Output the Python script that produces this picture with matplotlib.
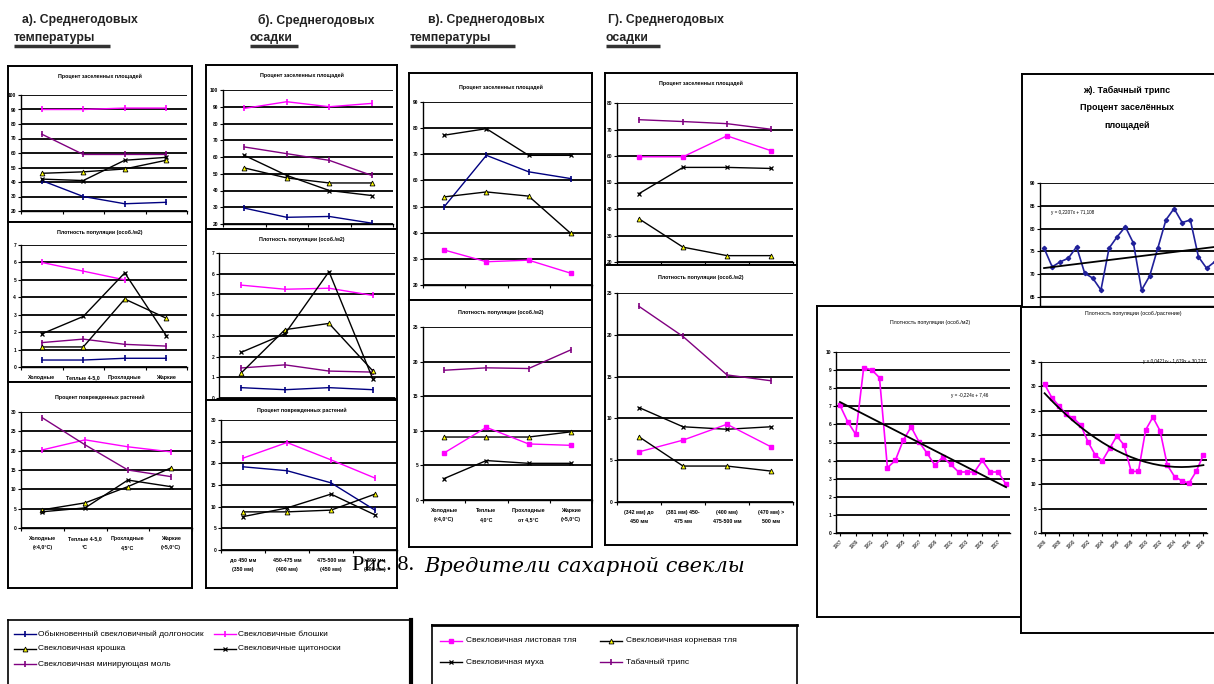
import numpy as np
import matplotlib
matplotlib.use('Agg')
import matplotlib.pyplot as plt

W, H = 1214, 684

# categories
temp_cats = ["Холодные\n(<4,0°С)", "Теплые 4-5,0\n°С", "Прохладные\n4,5°С", "Жаркие\n(>5,0°С)"]
temp_cats_short = ["Холодные", "Теплые 4-5,0", "Прохладные", "Жаркие"]
prec_cats = ["до 450 мм\n(350 мм)", "450-475 мм\n(400 мм)", "475-500 мм\n(450 мм)", ">500 мм\n(500 мм)"]
temp_cats_v = ["Холодные\n(<4,0°С)", "Теплые\n4,0°С", "Прохладные\nот 4,5°С", "Жаркие\n(>5,0°С)"]
prec_cats_g = ["(342 мм) до\n450 мм", "(381 мм) 450-\n475 мм", "(400 мм)\n475-500 мм", "(470 мм) >\n500 мм"]

# а) температуры
a_area_blue = [41, 30, 25, 26]
a_area_mag = [90, 90, 91, 91]
a_area_purple = [73, 59, 59, 59]
a_area_tri = [46, 47, 49, 55]
a_area_x = [42, 41, 55, 57]

a_dens_blue = [0.4, 0.4, 0.5, 0.5]
a_dens_mag = [6.0, 5.5, 5.0, np.nan]
a_dens_purple = [1.4, 1.6, 1.3, 1.2]
a_dens_tri = [1.15, 1.15, 3.9, 2.8]
a_dens_x = [1.9, 2.9, 5.4, 1.8]

a_dmg_mag = [20.2, 22.8, 21.0, 19.7]
a_dmg_purple = [28.5, 21.5, 15.0, 13.3]
a_dmg_tri = [4.7, 6.5, 10.7, 15.5]
a_dmg_x = [4.2, 5.2, 12.4, 10.7]

# б) осадки
b_area_blue = [29.5, 24, 24.5, 20.5]
b_area_mag = [89, 93, 90, 92]
b_area_purple = [66, 62, 58, 49]
b_area_tri = [53.5, 47.5, 44.5, 44.5]
b_area_x = [61, 49, 40, 37]

b_dens_blue = [0.5, 0.4, 0.5, 0.4]
b_dens_mag = [5.45, 5.25, 5.3, 4.95]
b_dens_purple = [1.45, 1.6, 1.3, 1.25]
b_dens_tri = [1.2, 3.3, 3.6, 1.3]
b_dens_x = [2.2, 3.1, 6.1, 0.9]

b_dmg_blue = [19.2, 18.3, 15.5, 9.2]
b_dmg_mag = [21.2, 24.8, 20.8, 16.6]
b_dmg_tri = [8.8, 8.8, 9.2, 12.9]
b_dmg_x = [7.7, 9.7, 12.9, 8.1]

# в) температуры
v_area_blue = [49.9, 69.6, 63.3, 60.7]
v_area_mag = [33.4, 28.9, 29.5, 24.5]
v_area_tri = [53.7, 55.6, 54.0, 39.7]
v_area_x = [77.3, 79.8, 69.6, 69.6]

v_dens_purple = [18.75, 19.1, 19.0, 21.7]
v_dens_tri = [9.1, 9.1, 9.1, 9.85]
v_dens_mag = [6.8, 10.5, 8.1, 7.9]
v_dens_x = [3.1, 5.7, 5.3, 5.3]

# г) осадки
g_area_purple = [73.7, 73.0, 72.2, 70.1]
g_area_mag = [59.7, 59.7, 67.6, 62.0]
g_area_x = [45.8, 55.7, 55.7, 55.3]
g_area_tri = [36.3, 25.6, 22.4, 22.4]

g_dens_purple = [23.4, 19.8, 15.2, 14.5]
g_dens_x = [11.3, 9.0, 8.7, 9.0]
g_dens_mag = [6.0, 7.4, 9.3, 6.6]
g_dens_tri = [7.8, 4.3, 4.3, 3.7]

# ж) табачный трипс по годам
zh_area = [75.7, 71.6, 72.7, 73.5, 76.0, 70.2, 69.1, 66.5, 75.7, 78.2, 80.4, 76.8,
           66.5, 69.6, 75.7, 81.9, 84.4, 81.3, 81.9, 73.8, 71.3, 72.7, 76.8]
zh_trend = (0.2207, 71.108)

ll_years = [str(y) for y in range(1987, 2009)]
ll_dens = [7.05, 6.13, 5.45, 9.13, 9.02, 8.58, 3.61, 4.01, 5.12, 5.86, 5.03, 4.42,
           3.74, 4.20, 3.79, 3.37, 3.37, 3.37, 4.01, 3.37, 3.37, 2.69]
ll_trend = (-0.224, 7.46)

lr_years = [str(y) for y in range(1986, 2009)]
lr_dens = [30.45, 27.7, 26.0, 24.3, 23.5, 22.1, 18.7, 16.0, 14.8, 17.3, 19.85, 18.0,
           12.6, 12.6, 21.1, 23.7, 20.9, 13.9, 11.55, 10.7, 10.2, 12.6, 16.0]
lr_trend = (0.0421, -1.679, 30.237)

BLUE = '#000080'
MAG = '#FF00FF'
PURPLE = '#800080'
STYLES = {
    'blue': dict(color=BLUE, marker='|', ms=4, mew=1.2),
    'mag': dict(color=MAG, marker='|', ms=4, mew=1.2),
    'purple': dict(color=PURPLE, marker='|', ms=4, mew=1.2),
    'tri': dict(color='black', marker='^', mfc='#FFFF00', mec='black', ms=3.5, mew=0.6),
    'x': dict(color='black', marker='x', ms=3.5, mew=0.9),
    'sq': dict(color=MAG, marker='s', ms=2.5),
}

plt.rcParams['font.family'] = ['Liberation Sans', 'DejaVu Sans']
fig = plt.figure(figsize=(W / 100, H / 100), dpi=100)


def rect(x0, y0, x1, y1):
    return [x0 / W, 1 - y1 / H, (x1 - x0) / W, (y1 - y0) / H]


def frame(x0, y0, x1, y1, lw=1.4):
    ax = fig.add_axes(rect(x0, y0, x1, y1))
    ax.set_xlim(x0, x1)
    ax.set_ylim(y1, y0)
    ax.set_xticks([])
    ax.set_yticks([])
    for s in ax.spines.values():
        s.set_linewidth(lw)
    return ax


def plot_axes(box, ylim, ystep, xlim):
    ax = fig.add_axes(rect(*box))
    ax.set_facecolor('none')
    ax.set_xlim(*xlim)
    ax.set_ylim(*ylim)
    ticks = np.arange(ylim[0] if ylim[0] % ystep == 0 else ylim[0] + ystep - ylim[0] % ystep,
                      ylim[1] + ystep / 2, ystep)
    ax.set_yticks(ticks)
    ax.set_yticklabels([f'{t:g}' for t in ticks], fontsize=3.5, fontweight='bold')
    ax.grid(axis='y', color='black', lw=1.3)
    ax.set_axisbelow(True)
    for s in ('top', 'right'):
        ax.spines[s].set_visible(False)
    for s in ('left', 'bottom'):
        ax.spines[s].set_linewidth(1.0)
    ax.tick_params(axis='y', length=2, width=0.8, pad=1.5)
    return ax


def chart(frm, box, ylim, ystep, series, title, title_dy=10, xlabels=None):
    fa = frame(*frm)
    fa.text((frm[0] + frm[2]) / 2, frm[1] + title_dy, title, ha='center', va='center',
            fontsize=3.8, fontweight='bold')
    ax = plot_axes(box, ylim, ystep, (0, 4))
    ax.set_xticks(range(5))
    ax.set_xticklabels([])
    ax.tick_params(axis='x', length=2, width=0.8)
    if xlabels:
        ax.set_xticks(np.arange(4) + 0.5, minor=True)
        ax.set_xticklabels(xlabels, minor=True, fontsize=3.8, fontweight='bold', linespacing=2.0)
        ax.tick_params(axis='x', which='minor', length=0, pad=6)
    for vals, st in series:
        ax.plot(np.arange(4) + 0.5, vals, lw=1, **STYLES[st])
    return ax


# а) среднегодовые температуры
chart((8, 66, 192, 222), (21, 95, 187, 211), (20, 100), 10,
      [(a_area_blue, 'blue'), (a_area_mag, 'mag'), (a_area_purple, 'purple'),
       (a_area_tri, 'tri'), (a_area_x, 'x')], "Процент заселенных площадей")
chart((8, 222, 192, 382), (21, 245, 187, 367), (0, 7), 1,
      [(a_dens_blue, 'blue'), (a_dens_mag, 'mag'), (a_dens_purple, 'purple'),
       (a_dens_tri, 'tri'), (a_dens_x, 'x')], "Плотность популяции (особ./м2)",
      xlabels=temp_cats_short)
chart((8, 382, 192, 588), (21, 412, 192, 528), (0, 30), 5,
      [(a_dmg_mag, 'mag'), (a_dmg_purple, 'purple'), (a_dmg_tri, 'tri'), (a_dmg_x, 'x')],
      "Процент поврежденных растений", title_dy=15, xlabels=temp_cats)

# б) среднегодовые осадки
chart((206, 65, 397, 229), (223, 90, 393, 224), (20, 100), 10,
      [(b_area_blue, 'blue'), (b_area_mag, 'mag'), (b_area_purple, 'purple'),
       (b_area_tri, 'tri'), (b_area_x, 'x')], "Процент заселенных площадей")
chart((206, 229, 397, 400), (219, 253, 395, 398), (0, 7), 1,
      [(b_dens_blue, 'blue'), (b_dens_mag, 'mag'), (b_dens_purple, 'purple'),
       (b_dens_tri, 'tri'), (b_dens_x, 'x')], "Плотность популяции (особ./м2)")
chart((206, 400, 397, 588), (221, 420, 397, 550), (0, 30), 5,
      [(b_dmg_blue, 'blue'), (b_dmg_mag, 'mag'), (b_dmg_tri, 'tri'), (b_dmg_x, 'x')],
      "Процент поврежденных растений", xlabels=prec_cats)

# в) среднегодовые температуры
chart((409, 73, 592, 300), (423, 102, 592, 285), (20, 90), 10,
      [(v_area_blue, 'blue'), (v_area_mag, 'sq'), (v_area_tri, 'tri'), (v_area_x, 'x')],
      "Процент заселенных площадей", title_dy=14)
chart((409, 300, 592, 547), (423, 327, 592, 500), (0, 25), 5,
      [(v_dens_purple, 'purple'), (v_dens_tri, 'tri'), (v_dens_mag, 'sq'), (v_dens_x, 'x')],
      "Плотность популяции (особ./м2)", title_dy=12, xlabels=temp_cats_v)

# г) среднегодовые осадки
chart((605, 73, 797, 265), (617, 103, 793, 262), (20, 80), 10,
      [(g_area_purple, 'purple'), (g_area_mag, 'sq'), (g_area_x, 'x'), (g_area_tri, 'tri')],
      "Процент заселенных площадей")
chart((605, 265, 797, 545), (617, 293, 793, 502), (0, 25), 5,
      [(g_dens_purple, 'purple'), (g_dens_x, 'x'), (g_dens_mag, 'sq'), (g_dens_tri, 'tri')],
      "Плотность популяции (особ./м2)", title_dy=12, xlabels=prec_cats_g)

# ж) табачный трипс, процент заселённых площадей
fz = frame(1022, 74, 1300, 330)
for y, s in zip((90, 107, 126), ("ж). Табачный трипс", "Процент заселённых", "площадей")):
    fz.text(1127, y, s, ha='center', va='center', fontsize=6.5, fontweight='bold')
az = plot_axes((1040, 183, 1300, 306), (63, 90), 5, (0.5, 32.5))
az.set_xticks([])
xz = np.arange(1, len(zh_area) + 1)
az.plot(xz, zh_area, color='#20209A', lw=1.2, marker='D', ms=2.2)
xt = np.arange(1, 33)
az.plot(xt, zh_trend[0] * xt + zh_trend[1], color='black', lw=1.3)
az.text(1.8, 83.5, f"y = {zh_trend[0]:.4f}x + {zh_trend[1]:.3f}".replace('.', ','),
        fontsize=3.3, va='center')


def year_axis(ax, labels):
    pos = np.arange(1, len(labels) + 1, 2)
    ax.set_xticks(pos)
    ax.set_xticklabels([labels[p - 1] for p in pos], rotation=45, ha='right',
                       fontsize=3.3, rotation_mode='anchor')
    ax.tick_params(axis='x', length=2, width=0.8, pad=2)


# плотность популяции по годам, особ./м2
fl = frame(817, 306, 1021, 617)
fl.text(930, 322, "Плотность популяции (особ./м2)", ha='center', va='center', fontsize=3.8)
al = plot_axes((836, 352, 1010, 533), (0, 10), 1, (0.5, len(ll_dens) + 0.5))
year_axis(al, ll_years)
xl = np.arange(1, len(ll_dens) + 1)
al.plot(xl, ll_dens, color=MAG, lw=1.2, marker='s', ms=3)
al.plot(xl, ll_trend[0] * xl + ll_trend[1], color='black', lw=1.3)
al.text(15, 7.6, f"y = {ll_trend[0]:.3f}x + {ll_trend[1]:.2f}".replace('.', ','),
        fontsize=3.3, va='center')

# плотность популяции по годам, особ./растение
fr = frame(1021, 307, 1300, 633)
fr.text(1133, 314, "Плотность популяции (особ./растение)", ha='center', va='center', fontsize=3.8)
ar = plot_axes((1041, 362, 1207, 533), (0, 35), 5, (0.5, len(lr_dens) + 0.5))
year_axis(ar, lr_years)
xr = np.arange(1, len(lr_dens) + 1)
ar.plot(xr, lr_dens, color=MAG, lw=1.2, marker='s', ms=3)
ar.plot(xr, lr_trend[0] * xr ** 2 + lr_trend[1] * xr + lr_trend[2], color='black', lw=1.3)
ar.text(23.3, 35.2, "y = 0,0421x² - 1,679x + 30,237", fontsize=3.3, ha='right', va='center')

# легенды
lg1 = frame(8, 620, 411, 700, lw=1.2)
lg1.spines['right'].set_linewidth(3)
leg1 = [(14, 634, 'blue', "Обыкновенный свекловичный долгоносик"),
        (214, 634, 'mag', "Свекловичные блошки"),
        (14, 649, 'tri', "Свекловичная крошка"),
        (214, 649, 'x', "Свекловичные щитоноски"),
        (14, 664, 'purple', "Свекловичная минирующая моль")]
for x, y, st, s in leg1:
    lg1.plot([x, x + 11, x + 22], [y] * 3, lw=1, markevery=[1], **STYLES[st])
    lg1.text(x + 24, y, s, fontsize=6, va='center')

lg2 = frame(432, 625, 797, 700, lw=1.2)
lg2.spines['top'].set_linewidth(2)
leg2 = [(440, 641, 'sq', "Свекловичная листовая тля"),
        (600, 641, 'tri', "Свекловичная корневая тля"),
        (440, 662, 'x', "Свекловичная муха"),
        (600, 662, 'purple', "Табачный трипс")]
for x, y, st, s in leg2:
    lg2.plot([x, x + 11, x + 22], [y] * 3, lw=1, markevery=[1], **STYLES[st])
    lg2.text(x + 26, y, s, fontsize=6, va='center')

# заголовки и подпись рисунка
ov = fig.add_axes([0, 0, 1, 1], zorder=10)
ov.set_xlim(0, W)
ov.set_ylim(H, 0)
ov.axis('off')
ov.patch.set_alpha(0)
heads = [(22, 14, "а). Среднегодовых", "температуры", 110),
         (258, 250, "б). Среднегодовых", "осадки", 298),
         (428, 410, "в). Среднегодовых", "температуры", 515),
         (608, 606, "Г). Среднегодовых", "осадки", 660)]
for x1, x2, s1, s2, xe in heads:
    ov.text(x1, 20, s1, fontsize=8.8, fontweight='bold', va='center', color='#222222')
    ov.text(x2, 38, s2, fontsize=8.8, fontweight='bold', va='center', color='#222222')
    ov.plot([x2, xe], [46, 46], color='#333333', lw=2.5, solid_capstyle='butt')

ov.text(352, 566, "Рис. 8.", fontsize=16, family='Liberation Serif', va='center')
ov.text(424, 566, "Вредители сахарной свеклы", fontsize=15, family='DejaVu Serif',
        style='italic', va='center')

fig.savefig('out.png', dpi=100)
